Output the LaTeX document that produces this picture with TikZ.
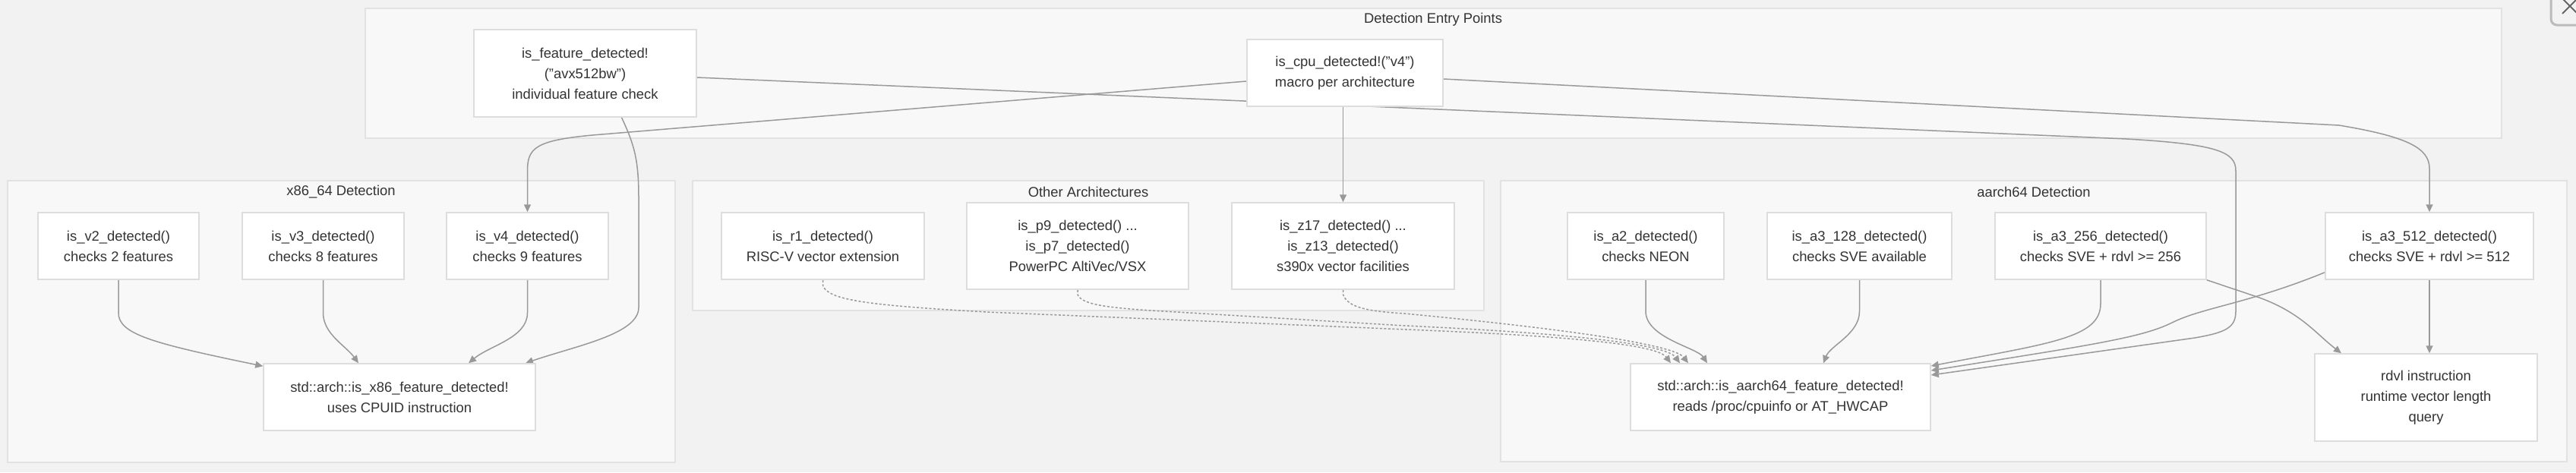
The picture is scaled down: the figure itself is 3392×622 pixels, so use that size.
\documentclass[tikz,border=0pt]{standalone}
\usepackage{fontspec}
\setmainfont{Liberation Sans}
\usetikzlibrary{arrows.meta}
\pgfdeclarelayer{bg}
\pgfdeclarelayer{edges}
\pgfsetlayers{bg,edges,main}
\definecolor{pagebg}{HTML}{F2F2F2}
\definecolor{clfill}{HTML}{F8F8F8}
\definecolor{clline}{HTML}{E2E2E2}
\definecolor{ndline}{HTML}{DDDDDD}
\definecolor{edgec}{HTML}{999999}
\definecolor{txt}{HTML}{333333}
\definecolor{btn}{HTML}{BBBBBB}
\tikzset{
  box/.style={draw=ndline, line width=1.5pt, fill=white, inner sep=0pt, align=center,
    text=txt, font=\fontsize{18.4}{27}\selectfont},
  cluster/.style={draw=clline, line width=1.5pt, fill=clfill},
  ctitle/.style={text=txt, inner sep=0pt, font=\fontsize{18.4}{22}\selectfont},
  link/.style={draw=edgec, line width=1.5pt, -{Triangle[length=10pt,width=9pt]}},
  dlink/.style={link, dash pattern=on 3pt off 2.5pt},
}
\begin{document}
\begin{tikzpicture}[x=1pt,y=-1pt]
\useasboundingbox (0,0) rectangle (3392,622);
\begin{pgfonlayer}{bg}
  \fill[pagebg] (0,0) rectangle (3392,622);
  \draw[cluster] (481,11) rectangle (3294,182);
  \draw[cluster] (10,238) rectangle (889,609);
  \draw[cluster] (912,238) rectangle (1954,409);
  \draw[cluster] (1976,238) rectangle (3380,608);
  \draw[draw=btn, line width=3pt, fill=pagebg, rounded corners=8pt] (3359,-20) rectangle (3440,33);
  \draw[draw=black!60, line width=2pt] (3374,18) -- (3394,-2) (3374,-2) -- (3394,18);
\end{pgfonlayer}
\node[ctitle] (tEntry) at (1887,26) {Detection Entry Points};
\node[ctitle] (tX86) at (449,253) {x86\_64 Detection};
\node[ctitle] (tOther) at (1433,253) {Other Architectures};
\node[ctitle] (tA64) at (2678,253) {aarch64 Detection};

\node[box, minimum width=293pt, minimum height=115pt] (feat) at (770.5,96.5) {is\_feature\_detected!\\("avx512bw")\\individual feature check};
\node[box, minimum width=258pt, minimum height=88pt] (cpu) at (1771,96) {is\_cpu\_detected!("v4")\\macro per architecture};

\node[box, minimum width=212pt, minimum height=88pt] (v2) at (156,324) {is\_v2\_detected()\\checks 2 features};
\node[box, minimum width=213pt, minimum height=88pt] (v3) at (425.5,324) {is\_v3\_detected()\\checks 8 features};
\node[box, minimum width=213pt, minimum height=88pt] (v4) at (694.5,324) {is\_v4\_detected()\\checks 9 features};
\node[box, minimum width=358pt, minimum height=88pt] (x86f) at (526,523) {std::arch::is\_x86\_feature\_detected!\\uses CPUID instruction};

\node[box, minimum width=267pt, minimum height=88pt] (r1) at (1083.5,324) {is\_r1\_detected()\\RISC-V vector extension};
\node[box, minimum width=292pt, minimum height=114pt] (p9) at (1419,324) {is\_p9\_detected() ...\\is\_p7\_detected()\\PowerPC AltiVec/VSX};
\node[box, minimum width=293pt, minimum height=114pt] (z17) at (1768.5,324) {is\_z17\_detected() ...\\is\_z13\_detected()\\s390x vector facilities};

\node[box, minimum width=206pt, minimum height=88pt] (a2) at (2167,324) {is\_a2\_detected()\\checks NEON};
\node[box, minimum width=243pt, minimum height=88pt] (a128) at (2448.5,324) {is\_a3\_128\_detected()\\checks SVE available};
\node[box, minimum width=278pt, minimum height=88pt] (a256) at (2766,324) {is\_a3\_256\_detected()\\checks SVE + rdvl >= 256};
\node[box, minimum width=274pt, minimum height=88pt] (a512) at (3199,324) {is\_a3\_512\_detected()\\checks SVE + rdvl >= 512};
\node[box, minimum width=395pt, minimum height=88pt] (a64f) at (2344.5,523) {std::arch::is\_aarch64\_feature\_detected!\\reads /proc/cpuinfo or AT\_HWCAP};
\node[box, minimum width=293pt, minimum height=115pt] (rdvl) at (3194.5,523.5) {rdvl instruction\\runtime vector length\\query};

\begin{pgfonlayer}{edges}
  % entry points
  \draw[link] ([yshift=-11pt]cpu.west) -- (780,178) .. controls (705,185) and (694.5,195) .. (694.5,225) -- (v4.north);
  \draw[link] ([xshift=48pt]feat.south) .. controls (835,190) and (841,210) .. (841,260) -- (841,405) .. controls (841,440) and (760,455) .. ([xshift=166pt]x86f.north);
  \draw[link] (z17.north |- cpu.south) -- (z17.north);
  \draw[link] ([yshift=-8pt]cpu.east) -- (3080,165) .. controls (3170,180) and (3199,195) .. (3199,222) -- (a512.north);
  \draw[link] ([yshift=-5.5pt]feat.east) -- (2800,183) .. controls (2920,190) and (2944,200) .. (2944,225) -- (2944,410) .. controls (2944,432) and (2930,438) .. (2890,445) -- ([yshift=29pt]a64f.east);
  % x86
  \draw[link] (v2.south) -- (156,412) .. controls (156,440) and (200,452) .. ([yshift=-4pt]x86f.north west);
  \draw[link] (v3.south) -- (425.5,412) .. controls (425.5,440) and (455,455) .. ([xshift=-54pt]x86f.north);
  \draw[link] (v4.south) -- (694.5,412) .. controls (694.5,445) and (645,455) .. ([xshift=91pt]x86f.north);
  % aarch64
  \draw[link] (a2.south) -- (2167,410) .. controls (2167,445) and (2235,458) .. ([xshift=-96.5pt]a64f.north);
  \draw[link] (a128.south) -- (2448.5,410) .. controls (2448.5,440) and (2410,455) .. ([xshift=56.5pt]a64f.north);
  \draw[link] (a256.south) -- (2766,400) .. controls (2766,445) and (2700,452) .. ([yshift=41pt]a64f.east);
  \draw[link] ([yshift=10pt]a512.south west) .. controls (2960,400) and (2900,405) .. (2860,425) .. controls (2820,445) and (2750,455) .. ([yshift=35pt]a64f.east);
  \draw[link] (a256.south east) -- (2975,392) .. controls (3030,412) and (3050,440) .. ([xshift=-111.5pt]rdvl.north);
  \draw[link] (a512.south) -- (a512.south |- rdvl.north);
  % other architectures (dotted)
  \draw[dlink] (r1.south) -- (1083.5,376) .. controls (1090,395) and (1140,402) .. (1300,411) -- (1900,436) .. controls (2120,446) and (2185,458) .. ([xshift=-144.5pt]a64f.north);
  \draw[dlink] (p9.south) -- (1419,388) .. controls (1425,402) and (1460,406) .. (1550,411) -- (1850,429) .. controls (2090,440) and (2195,455) .. ([xshift=-132.5pt]a64f.north);
  \draw[dlink] (z17.south) -- (1768.5,388) .. controls (1775,405) and (1800,410) .. (1850,413) .. controls (2080,435) and (2205,455) .. ([xshift=-121.5pt]a64f.north);
\end{pgfonlayer}
\end{tikzpicture}
\end{document}
